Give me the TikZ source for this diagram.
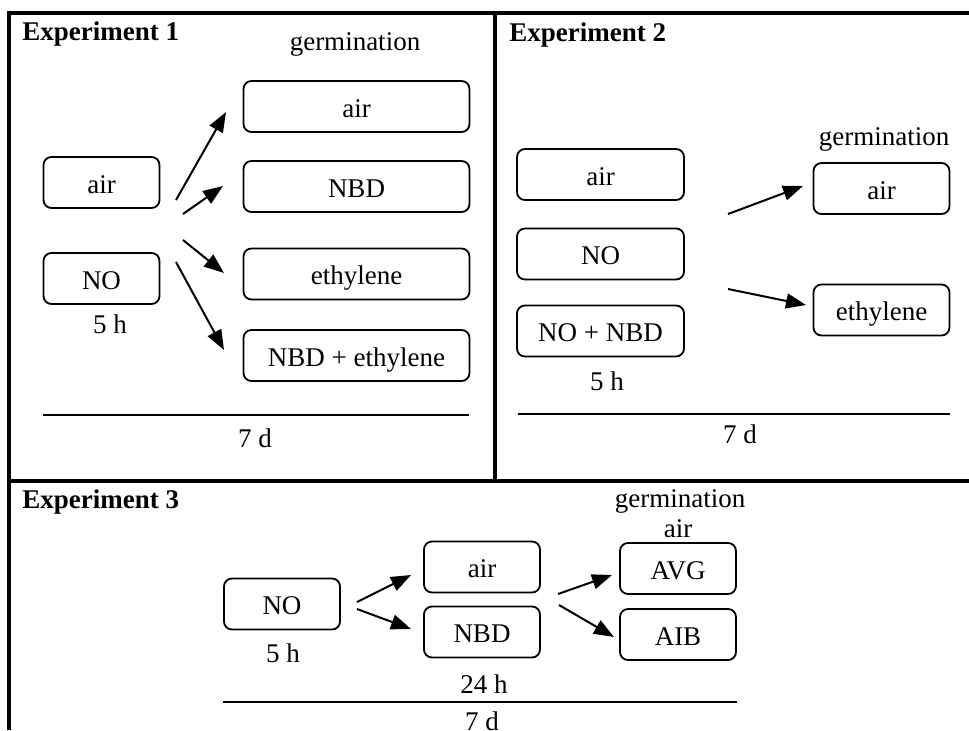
\documentclass[tikz,border=0pt]{standalone}
\usepackage{fontspec}
\setmainfont{Liberation Serif}
\usetikzlibrary{arrows.meta}
\newcommand{\lab}{\fontsize{13.5}{16}\selectfont}

\begin{document}
\begin{tikzpicture}[x=0.5pt,y=-0.5pt,
  every node/.style={font=\lab,text height=13.5pt,text depth=3pt,inner sep=1pt},
  box/.style={draw,rounded corners=4pt,line width=0.9pt,minimum height=25.5pt},
  head/.style={anchor=west,font=\lab\bfseries},
  frame/.style={line width=1.6pt},
  span/.style={line width=1.3pt},
  arr/.style={-{Triangle[length=10pt,width=7.5pt]},line width=1pt}]
\useasboundingbox (0,0) rectangle (969,730);
% outer frame and panel dividers
\draw[frame] (9,730) -- (9,13) -- (969,13);
\draw[frame] (9,481) -- (969,481);
\draw[frame] (495,13) -- (495,481);

% Experiment 1
\node[head] (hA) at (20,29.5) {Experiment 1};
\node (gA) at (355,39.5) {germination};
\node[box,minimum width=58pt] (airA) at (101.5,182.5) {air};
\node[box,minimum width=58pt] (noA) at (101.5,278.5) {NO};
\node (tA) at (110,322.5) {5 h};
\node[box,minimum width=113pt] (gA1) at (356.5,106.5) {air};
\node[box,minimum width=113pt] (gA2) at (356.5,186.5) {NBD};
\node[box,minimum width=113pt] (gA3) at (356.5,274) {ethylene};
\node[box,minimum width=113pt] (gA4) at (356.5,355.5) {NBD + ethylene};
\coordinate (sA1) at (176,200); \coordinate (eA1) at (226,112);
\coordinate (sA2) at (183,214); \coordinate (eA2) at (223,186);
\coordinate (sA3) at (183,240); \coordinate (eA3) at (224,273);
\coordinate (sA4) at (176,262); \coordinate (eA4) at (224,350);
\draw[arr] (sA1) -- (eA1); \draw[arr] (sA2) -- (eA2);
\draw[arr] (sA3) -- (eA3); \draw[arr] (sA4) -- (eA4);
\coordinate (lA1) at (43,415); \coordinate (lA2) at (469,415);
\draw[span] (lA1) -- (lA2);
\node (dA) at (255,437) {7 d};

% Experiment 2
\node[head] (hB) at (507,31) {Experiment 2};
\node[box,minimum width=83.5pt] (airB) at (600.5,174.5) {air};
\node[box,minimum width=83.5pt] (noB) at (600.5,254) {NO};
\node[box,minimum width=83.5pt] (nbdB) at (600.5,331) {NO + NBD};
\node (tB) at (607,379.5) {5 h};
\node (gB) at (884,134.5) {germination};
\node[box,minimum width=68pt] (gB1) at (881.5,188.5) {air};
\node[box,minimum width=68pt] (gB2) at (881.5,310) {ethylene};
\coordinate (sB1) at (728,214); \coordinate (eB1) at (803,186);
\coordinate (sB2) at (728,289); \coordinate (eB2) at (806,305);
\draw[arr] (sB1) -- (eB1); \draw[arr] (sB2) -- (eB2);
\coordinate (lB1) at (518,414); \coordinate (lB2) at (950,414);
\draw[span] (lB1) -- (lB2);
\node (dB) at (740,432.5) {7 d};

% Experiment 3
\node[head] (hC) at (20,497.5) {Experiment 3};
\node (gC) at (680,496.5) {germination};
\node (aC) at (678,526.5) {air};
\node[box,minimum width=58pt] (noC) at (282,604) {NO};
\node (tC) at (283,651.5) {5 h};
\node[box,minimum width=58pt] (airC) at (482,567) {air};
\node[box,minimum width=58pt] (nbdC) at (482,632) {NBD};
\node[box,minimum width=58pt] (avgC) at (678,568.5) {AVG};
\node[box,minimum width=58pt] (aibC) at (678,634.5) {AIB};
\coordinate (sC1) at (357,602); \coordinate (eC1) at (411,575);
\coordinate (sC2) at (357,609); \coordinate (eC2) at (411,629);
\coordinate (sC3) at (558,594); \coordinate (eC3) at (612,575);
\coordinate (sC4) at (559,605); \coordinate (eC4) at (614,637);
\draw[arr] (sC1) -- (eC1); \draw[arr] (sC2) -- (eC2);
\draw[arr] (sC3) -- (eC3); \draw[arr] (sC4) -- (eC4);
\node (hC24) at (484,682.5) {24 h};
\coordinate (lC1) at (223,702); \coordinate (lC2) at (737,702);
\draw[span] (lC1) -- (lC2);
\node (dC) at (482,719.5) {7 d};
\end{tikzpicture}
\end{document}
